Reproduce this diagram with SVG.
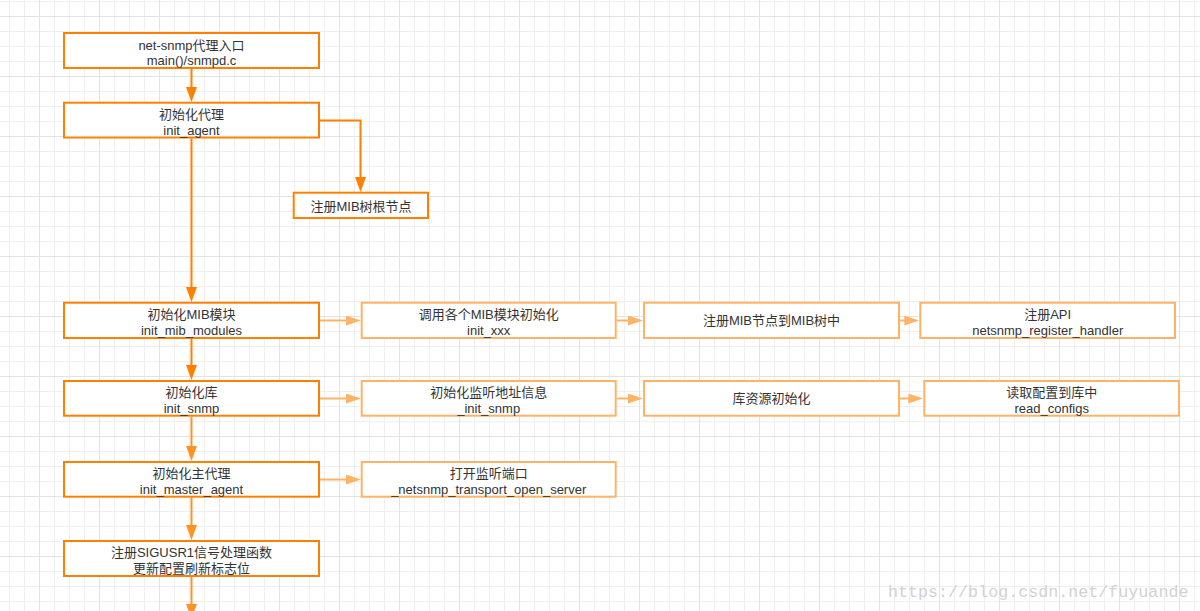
<svg xmlns="http://www.w3.org/2000/svg" width="1200" height="611" viewBox="0 0 1200 611">
<defs>
<pattern id="gMinor" patternUnits="userSpaceOnUse" x="9" y="1" width="15" height="15">
<path d="M0 0.5H15M0.5 0V15" stroke="#efefef" stroke-width="1" fill="none"/>
</pattern>
<pattern id="gMajor" patternUnits="userSpaceOnUse" x="39" y="16" width="60" height="60">
<path d="M0 0.5H60M0.5 0V60" stroke="#e3e3e3" stroke-width="1" fill="none"/>
</pattern>
<marker id="aDark" viewBox="0 0 15 11" markerUnits="userSpaceOnUse" markerWidth="15" markerHeight="11" refX="10" refY="5.5" orient="auto">
<path d="M0 0L15 5.5L0 11z" fill="#ff8000"/>
</marker>
<marker id="aMid" viewBox="0 0 15 11" markerUnits="userSpaceOnUse" markerWidth="15" markerHeight="11" refX="10" refY="5.5" orient="auto">
<path d="M0 0L15 5.5L0 11z" fill="#ff9326"/>
</marker>
<marker id="aLight" viewBox="0 0 15 10" markerUnits="userSpaceOnUse" markerWidth="15" markerHeight="10" refX="10" refY="5" orient="auto">
<path d="M0 0L15 5L0 10z" fill="#ffb366"/>
</marker>
</defs>
<style>
.main{fill:#ffffff;stroke:#ff8000;stroke-width:2}
.sub{fill:#ffffff;stroke:#ffb366;stroke-width:2}
.t{font-family:"Liberation Sans","Noto Sans CJK SC",sans-serif;font-size:13px;fill:#333333;text-anchor:middle}
.cd{fill:none;stroke:#ff8000;stroke-width:2}
.cm{fill:none;stroke:#ff9326;stroke-width:2}
.cl{fill:none;stroke:#ffb366;stroke-width:2}
.wm{font-family:"Liberation Mono",monospace;font-size:16.7px;fill:#d2d2d2}
</style>
<rect width="1200" height="611" fill="#ffffff"/>
<rect width="1200" height="611" fill="url(#gMinor)"/>
<rect width="1200" height="611" fill="url(#gMajor)"/>

<g id="connectors">
<path class="cd" d="M191.5 69V97" marker-end="url(#aDark)"/>
<path class="cd" d="M320 120.5H360.5V187" marker-end="url(#aDark)"/>
<path class="cd" d="M191.5 138.5V297" marker-end="url(#aDark)"/>
<path class="cd" d="M191.5 339V375" marker-end="url(#aDark)"/>
<path class="cm" d="M191.5 417V456" marker-end="url(#aMid)"/>
<path class="cm" d="M191.5 497.5V535" marker-end="url(#aMid)"/>
<path class="cm" d="M191.5 577V614" marker-end="url(#aMid)"/>
<path class="cl" d="M320 320.5H356" marker-end="url(#aLight)"/>
<path class="cl" d="M616.7 320.5H638" marker-end="url(#aLight)"/>
<path class="cl" d="M900 320.5H914.3" marker-end="url(#aLight)"/>
<path class="cl" d="M320 398.5H356" marker-end="url(#aLight)"/>
<path class="cl" d="M616.7 398.5H638" marker-end="url(#aLight)"/>
<path class="cl" d="M900 398.5H918.3" marker-end="url(#aLight)"/>
<path class="cl" d="M320 479.5H356" marker-end="url(#aLight)"/>
</g>

<g id="n_entry">
<rect class="main" x="64" y="33" width="255" height="35"/>
<text class="t" x="191.5" y="49.5">net-snmp代理入口</text>
<text class="t" x="191.5" y="65">main()/snmpd.c</text>
</g>
<g id="n_init_agent">
<rect class="main" x="64" y="102.7" width="255" height="34.8"/>
<text class="t" x="191.5" y="119">初始化代理</text>
<text class="t" x="191.5" y="134.5">init_agent</text>
</g>
<g id="n_root">
<rect class="main" x="293.7" y="192.7" width="134.3" height="25.3"/>
<text class="t" x="361" y="211">注册MIB树根节点</text>
</g>
<g id="n_mib_modules">
<rect class="main" x="64" y="302.7" width="255" height="35.3"/>
<text class="t" x="191.5" y="319">初始化MIB模块</text>
<text class="t" x="191.5" y="334.5">init_mib_modules</text>
</g>
<g id="n_init_xxx">
<rect class="sub" x="361.7" y="302.7" width="254" height="35.3"/>
<text class="t" x="488.7" y="319">调用各个MIB模块初始化</text>
<text class="t" x="488.7" y="334.5">init_xxx</text>
</g>
<g id="n_reg_node">
<rect class="sub" x="644" y="302.7" width="255" height="35.3"/>
<text class="t" x="771.5" y="325">注册MIB节点到MIB树中</text>
</g>
<g id="n_reg_api">
<rect class="sub" x="920.3" y="302.7" width="254.7" height="35.3"/>
<text class="t" x="1047.7" y="319">注册API</text>
<text class="t" x="1047.7" y="334.5">netsnmp_register_handler</text>
</g>
<g id="n_init_snmp">
<rect class="main" x="64" y="381" width="255" height="34.7"/>
<text class="t" x="191.5" y="397">初始化库</text>
<text class="t" x="191.5" y="412.5">init_snmp</text>
</g>
<g id="n__init_snmp">
<rect class="sub" x="361.7" y="381" width="254" height="34.7"/>
<text class="t" x="488.7" y="397">初始化监听地址信息</text>
<text class="t" x="488.7" y="412.5">_init_snmp</text>
</g>
<g id="n_lib_res">
<rect class="sub" x="644" y="381" width="255" height="34.7"/>
<text class="t" x="771.5" y="403">库资源初始化</text>
</g>
<g id="n_read_configs">
<rect class="sub" x="924.3" y="381" width="254.7" height="34.7"/>
<text class="t" x="1051.7" y="397">读取配置到库中</text>
<text class="t" x="1051.7" y="412.5">read_configs</text>
</g>
<g id="n_master">
<rect class="main" x="64" y="462" width="255" height="34.7"/>
<text class="t" x="191.5" y="478">初始化主代理</text>
<text class="t" x="191.5" y="493.5">init_master_agent</text>
</g>
<g id="n_open_server">
<rect class="sub" x="361.7" y="462" width="254" height="34.7"/>
<text class="t" x="488.7" y="478">打开监听端口</text>
<text class="t" x="488.7" y="493.5">_netsnmp_transport_open_server</text>
</g>
<g id="n_sigusr1">
<rect class="main" x="64" y="541" width="255" height="35"/>
<text class="t" x="191.5" y="557">注册SIGUSR1信号处理函数</text>
<text class="t" x="191.5" y="572.5">更新配置刷新标志位</text>
</g>

<text class="wm" x="888" y="597">https://blog.csdn.net/fuyuande</text>
</svg>
